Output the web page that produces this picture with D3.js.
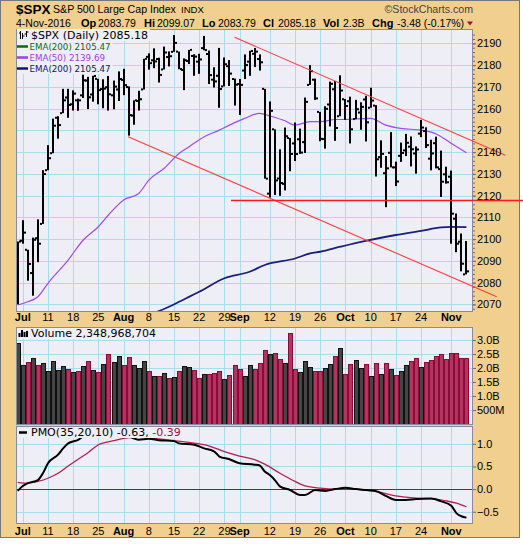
<!DOCTYPE html>
<html>
<head>
<meta charset="utf-8">
<script src="https://cdn.jsdelivr.net/npm/d3@7"></script>
<style>
  body { margin: 0; background: #fff; }
  svg { display: block; }
  text { font-family: "Liberation Sans", Arial, sans-serif; }
  text.leg { font-family: "DejaVu Sans", Verdana, sans-serif; }
</style>
</head>
<body>
<svg id="chart" width="523" height="544"></svg>
<script>
// ---- data ----
const dates = ("06-30 07-01 07-05 07-06 07-07 07-08 07-11 07-12 07-13 07-14 07-15 07-18 07-19 07-20 07-21 07-22 " +
  "07-25 07-26 07-27 07-28 07-29 08-01 08-02 08-03 08-04 08-05 08-08 08-09 08-10 08-11 08-12 08-15 08-16 08-17 " +
  "08-18 08-19 08-22 08-23 08-24 08-25 08-26 08-29 08-30 08-31 09-01 09-02 09-06 09-07 09-08 09-09 09-12 09-13 " +
  "09-14 09-15 09-16 09-19 09-20 09-21 09-22 09-23 09-26 09-27 09-28 09-29 09-30 10-03 10-04 10-05 10-06 10-07 " +
  "10-10 10-11 10-12 10-13 10-14 10-17 10-18 10-19 10-20 10-21 10-24 10-25 10-26 10-27 10-28 10-31 11-01 11-02 " +
  "11-03 11-04").split(" ");

const open = [2073.2,2099.3,2095.1,2084.4,2100.4,2107.0,2131.7,2139.5,2155.8,2157.9,2165.1,2162.0,2163.8,2166.1,2172.9,2166.5,
  2173.7,2169.0,2169.8,2166.1,2168.8,2173.2,2169.9,2156.8,2163.5,2168.8,2183.8,2182.2,2182.8,2178.0,2183.7,2186.1,2186.2,2177.8,
  2181.9,2184.2,2181.6,2187.8,2185.1,2173.3,2175.1,2170.2,2179.5,2173.6,2171.3,2177.5,2181.6,2185.2,2182.8,2169.1,2120.9,2150.5,
  2127.9,2125.4,2146.5,2144.0,2145.9,2144.6,2170.9,2173.3,2158.5,2146.0,2161.9,2168.9,2156.5,2164.3,2163.4,2155.2,2158.2,2164.2,
  2160.4,2161.4,2137.7,2130.3,2139.7,2133.0,2138.3,2140.8,2142.5,2139.4,2148.5,2149.7,2137.0,2144.1,2132.2,2129.8,2128.7,2109.4,
  2098.8,2083.8];
const high = [2098.9,2108.7,2095.1,2100.7,2109.1,2131.7,2143.2,2155.4,2156.5,2169.1,2169.1,2168.4,2164.6,2175.6,2174.6,2175.1,
  2173.7,2173.5,2175.0,2172.9,2177.1,2178.3,2170.2,2163.8,2168.2,2182.9,2185.4,2187.7,2183.4,2188.5,2186.3,2193.8,2186.2,2183.1,
  2187.0,2185.0,2185.2,2193.4,2186.7,2179.0,2187.9,2183.5,2182.3,2173.8,2173.6,2184.9,2186.6,2187.9,2184.9,2169.1,2163.3,2150.5,
  2141.3,2151.3,2146.5,2153.6,2150.8,2165.1,2180.0,2173.8,2158.5,2161.1,2172.4,2172.7,2175.3,2164.4,2165.5,2164.0,2162.9,2165.9,
  2169.6,2161.6,2145.4,2138.2,2149.2,2135.6,2144.4,2148.4,2147.2,2142.6,2154.8,2151.4,2145.7,2147.1,2140.7,2133.3,2131.5,2111.8,
  2102.6,2099.1];
const low = [2070.0,2097.9,2080.9,2074.0,2089.4,2107.0,2131.7,2139.5,2146.2,2157.9,2155.8,2159.1,2159.0,2164.9,2159.8,2163.2,
  2162.0,2160.2,2159.1,2159.7,2163.5,2166.2,2147.6,2152.6,2159.1,2168.8,2177.9,2178.6,2172.0,2178.0,2179.4,2186.1,2178.1,2168.5,
  2180.5,2175.1,2176.0,2186.8,2171.3,2169.7,2160.4,2170.2,2170.4,2161.4,2157.1,2173.6,2175.1,2179.1,2177.5,2127.8,2119.1,2120.3,
  2119.9,2122.4,2131.2,2135.9,2139.2,2139.6,2170.9,2164.0,2145.0,2141.6,2151.8,2145.2,2156.5,2154.8,2144.0,2155.2,2150.3,2144.9,
  2160.4,2128.8,2132.8,2114.7,2133.0,2124.4,2135.5,2138.2,2133.4,2130.1,2146.9,2141.9,2131.6,2132.5,2119.4,2125.5,2097.9,2094.0,
  2085.2,2083.8];
const close = [2098.9,2103.0,2088.6,2099.7,2097.9,2129.9,2137.2,2152.14,2152.43,2163.8,2161.7,2166.9,2163.8,2173.0,2165.2,2175.0,
  2168.5,2169.2,2166.6,2170.1,2173.6,2170.8,2157.0,2163.8,2164.3,2182.9,2180.9,2181.7,2175.5,2185.8,2184.1,2190.2,2178.2,2182.2,
  2187.0,2183.9,2182.6,2186.9,2175.4,2172.5,2169.0,2180.4,2176.1,2171.0,2170.9,2180.0,2186.5,2186.2,2181.3,2127.8,2159.0,2127.0,
  2125.8,2147.3,2139.16,2139.12,2139.8,2163.1,2177.2,2164.7,2146.1,2159.9,2171.4,2151.1,2168.3,2161.2,2150.5,2159.7,2160.8,2153.7,
  2163.7,2136.7,2139.2,2132.55,2132.98,2126.5,2139.6,2144.3,2141.3,2141.2,2151.3,2143.2,2139.4,2133.0,2126.4,2126.15,2111.7,2097.9,
  2088.7,2085.18];
// volume in billions
const volume = [2.88,2.10,2.20,2.35,2.10,2.17,1.88,2.26,1.92,2.06,1.95,1.85,1.88,2.06,2.24,1.92,1.85,2.13,2.49,2.20,2.42,2.10,
  2.38,2.10,1.99,2.24,1.88,1.70,1.70,1.81,1.63,1.67,1.88,2.06,2.02,1.92,1.63,1.77,1.77,1.81,1.88,1.60,1.74,2.10,1.95,1.70,2.10,
  1.95,2.17,2.63,2.49,2.52,2.31,2.17,3.24,1.95,1.85,2.24,2.02,1.88,1.88,1.99,2.13,2.42,2.70,1.77,2.13,2.27,1.99,2.13,1.70,2.17,
  1.77,2.17,1.95,1.74,1.88,2.10,2.24,2.35,2.02,2.20,2.27,2.42,2.49,2.31,2.52,2.52,2.35,2.35];

// moving averages and PMO, read as [bar index, value]
const ema50 = [[0,2069.7],[2,2071.2],[4,2073.5],[6,2079.7],[10,2090.4],[13,2099.6],[16,2105.7],[18,2111.1],[21,2118],
  [24,2121],[26,2127.1],[29,2132.5],[32,2139.4],[34,2142.5],[37,2147.1],[40,2150.1],[42,2152.4],[45,2155.5],[48,2157.8],
  [50,2156.6],[53,2154.4],[55,2152.4],[58,2154],[60,2154],[63,2155],[65,2155],[70,2155.5],[73,2152.4],[76,2150.9],
  [80,2150.1],[83,2148.3],[86,2144],[89,2139.7]];
const ema200 = [[27,2066.0],[30,2068.9],[32,2071.2],[36,2075.8],[41,2082],[46,2085],[49,2088.1],[55,2091.1],[58,2093.4],
  [60,2094.2],[64,2096.5],[69,2099.2],[75,2101.9],[80,2103.8],[84,2105.4],[86,2105.6],[89,2105.5]];
const pmo = [[0,-0.04],[1,0.07],[2,0.13],[4,0.20],[5,0.35],[6,0.57],[8,0.76],[9,0.90],[10,1.01],[12,1.09],[13,1.16],
  [16,1.24],[19,1.25],[21,1.20],[23,1.12],[24,1.09],[26,1.11],[28,1.08],[31,1.06],[32,1.01],[35,0.98],[37,0.90],[39,0.83],
  [40,0.72],[42,0.66],[44,0.57],[47,0.54],[48,0.52],[49,0.39],[50,0.31],[51,0.20],[52,0.06],[54,-0.02],[56,-0.13],
  [57,-0.13],[59,-0.02],[61,-0.04],[63,0.00],[65,0.03],[67,0.00],[69,-0.02],[71,-0.04],[73,-0.15],[75,-0.24],[77,-0.24],
  [79,-0.22],[82,-0.21],[84,-0.27],[86,-0.37],[87,-0.53],[88,-0.60],[89,-0.63]];
const signal = [[0,0.15],[2,0.13],[4,0.17],[6,0.24],[8,0.35],[10,0.51],[12,0.66],[14,0.81],[16,0.98],[19,1.07],[21,1.12],
  [24,1.15],[27,1.12],[31,1.07],[34,1.03],[38,0.95],[41,0.83],[44,0.73],[47,0.65],[49,0.55],[52,0.35],[55,0.17],[57,0.07],
  [60,0.02],[63,0.0],[66,0.0],[69,-0.02],[72,-0.07],[75,-0.15],[79,-0.20],[82,-0.21],[85,-0.26],[87,-0.31],[89,-0.39]];

// hand-drawn trend lines, [bar index, price] end points
const upperChannel = [[43.0, 2192.8], [96.7, 2138.6]];
const lowerChannel = [[21.9, 2147.1], [95.0, 2073.5]];
const support = [[42.3, 2118], [100.5, 2118]];

const tickIdx = [1, 6, 11, 16, 21, 26, 31, 36, 41, 44, 50, 55, 60, 65, 70, 75, 80, 86];
const tickLabel = ["Jul","11","18","25","Aug","8","15","22","29","Sep","12","19","26","Oct","10","17","24","Nov"];
const priceTicks = d3.range(2070, 2191, 10);
const volTicks = [3, 2.5, 2, 1.5, 1, 0.5];
const volTickLabel = ["3.0B","2.5B","2.0B","1.5B","1.0B","500M"];
const pmoTicks = [1, 0.5, 0, -0.5];

// ---- layout ----
const L = 16, R = 473;
const pricePanel = {top: 29, bottom: 312};
const volPanel = {top: 327, bottom: 425};
const pmoPanel = {top: 426, bottom: 524};

const tan = "#f0cf8f", panelBg = "#eeeef7", grid = "#acdcec", border = "#8a8a98";
const upFill = "#454545", downFill = "#b0365f", downStroke = "#8c0a3a";

const svg = d3.select("#chart");

const x = d3.scaleLinear().domain([-0.34, 90.3]).range([L, R]);
const yPrice = d3.scaleLinear().domain([2066.5, 2196.6]).range([pricePanel.bottom, pricePanel.top]);
const yVol = d3.scaleLinear().domain([-0.036, 3.464]).range([volPanel.bottom, volPanel.top]);
const yPmo = d3.scaleLinear().domain([-0.771, 1.394]).range([pmoPanel.bottom, pmoPanel.top]);

// frame
svg.append("rect").attr("x", 0.5).attr("y", 0.5).attr("width", 519).attr("height", 537)
  .attr("fill", tan).attr("stroke", "#777");

const defs = svg.append("defs");

function panel(p, y, ticks, id) {
  defs.append("clipPath").attr("id", id)
    .append("rect").attr("x", L).attr("y", p.top).attr("width", R - L).attr("height", p.bottom - p.top);
  svg.append("rect").attr("x", L).attr("y", p.top).attr("width", R - L).attr("height", p.bottom - p.top)
    .attr("fill", panelBg);
  const g = svg.append("g").attr("clip-path", `url(#${id})`);
  g.selectAll(".hg").data(ticks).enter().append("line")
    .attr("x1", L).attr("x2", R)
    .attr("y1", d => Math.round(y(d)) + 0.5).attr("y2", d => Math.round(y(d)) + 0.5)
    .attr("stroke", grid);
  g.selectAll(".vg").data(tickIdx).enter().append("line")
    .attr("x1", d => Math.round(x(d)) + 0.5).attr("x2", d => Math.round(x(d)) + 0.5)
    .attr("y1", p.top).attr("y2", p.bottom)
    .attr("stroke", grid);
  return g;
}

function rightAxis(p, y, ticks, fmt) {
  const ax = svg.append("g").attr("transform", `translate(${R},0)`)
    .call(d3.axisRight(y).tickValues(ticks).tickSize(3).tickPadding(1).tickFormat(fmt));
  ax.select(".domain").remove();
  ax.selectAll("line").attr("stroke", "#6b6b80");
  ax.selectAll("text").attr("font-size", 11).attr("fill", "#000");
  return ax;
}

function xLabels(yBase) {
  svg.append("g").selectAll("text").data(tickIdx).enter().append("text")
    .attr("x", d => x(d)).attr("y", yBase)
    .attr("text-anchor", "middle")
    .attr("font-size", 11)
    .attr("font-weight", (d, i) => isNaN(+tickLabel[i]) ? "bold" : "normal")
    .text((d, i) => tickLabel[i]);
}

function legendBox(g, yBase, h) {
  // opaque box behind a legend row, sized to its text
  const bb = g.node().getBBox();
  g.insert("rect", ":first-child").attr("x", L + 1).attr("y", yBase - h)
    .attr("width", bb.x + bb.width - L + 1).attr("height", h + 2).attr("fill", panelBg);
}

// ---- price panel ----
const gp = panel(pricePanel, yPrice, priceTicks, "clipPrice");
const priceLine = d3.line().x(d => x(d[0])).y(d => yPrice(d[1])).curve(d3.curveMonotoneX);
gp.append("path").datum(ema200).attr("d", priceLine).attr("fill", "none")
  .attr("stroke", "#1b1f78").attr("stroke-width", 1.8);
gp.append("path").datum(ema50).attr("d", priceLine).attr("fill", "none")
  .attr("stroke", "#a04ae8").attr("stroke-width", 1.2);

const bars = gp.selectAll(".bar").data(dates).enter().append("g");
bars.append("rect").attr("x", (d, i) => Math.round(x(i)) - 1).attr("width", 2)
  .attr("y", (d, i) => yPrice(high[i]))
  .attr("height", (d, i) => Math.max(1.5, yPrice(low[i]) - yPrice(high[i])))
  .attr("fill", "#000");
bars.append("rect").attr("x", (d, i) => Math.round(x(i)) - 3).attr("width", 2)
  .attr("y", (d, i) => yPrice(open[i]) - 1).attr("height", 2).attr("fill", "#000");
bars.append("rect").attr("x", (d, i) => Math.round(x(i)) + 1).attr("width", 2)
  .attr("y", (d, i) => yPrice(close[i]) - 1).attr("height", 2).attr("fill", "#000");

svg.append("rect").attr("x", L + 0.5).attr("y", pricePanel.top + 0.5).attr("width", R - L - 1)
  .attr("height", pricePanel.bottom - pricePanel.top - 1).attr("fill", "none").attr("stroke", border);

// trend lines (drawn over the panel edge like the original)
[upperChannel, lowerChannel].forEach(seg => {
  svg.append("line").attr("x1", x(seg[0][0])).attr("y1", yPrice(seg[0][1]))
    .attr("x2", x(seg[1][0])).attr("y2", yPrice(seg[1][1]))
    .attr("stroke", "#ff3c3c").attr("stroke-width", 1.1);
});
svg.append("line").attr("x1", x(support[0][0])).attr("x2", x(support[1][0]))
  .attr("y1", Math.round(yPrice(support[0][1])) + 0.5).attr("y2", Math.round(yPrice(support[1][1])) + 0.5)
  .attr("stroke", "#ff1a1a").attr("stroke-width", 1.6);

rightAxis(pricePanel, yPrice, priceTicks, d3.format("d"));
// minor ticks
svg.append("g").attr("transform", `translate(${R},0)`)
  .call(d3.axisRight(yPrice).tickValues(d3.range(2068, 2196, 2)).tickSize(2).tickFormat(""))
  .call(a => a.select(".domain").remove())
  .selectAll("line").attr("stroke", "#6b6b80");
xLabels(321);

// price legend
const lg = svg.append("g");
const row1 = lg.append("g");
row1.append("text").attr("class", "leg").attr("x", 31).attr("y", 39).attr("font-size", 11).attr("fill", "#000")
  .text("$SPX (Daily) 2085.18");
row1.append("path").attr("d", "M20.5,31v8M22.5,33v6M19,33h1.5M23,36h1.5M26.5,31v6M24.5,34h2M27,32h1.5")
  .attr("stroke", "#000").attr("stroke-width", 1);
legendBox(row1, 39, 10);
const emaRows = [["EMA(200) 2105.47", "#0b6a10", 50], ["EMA(50) 2139.69", "#9b3fe6", 61], ["EMA(200) 2105.47", "#10127a", 72]];
emaRows.forEach(r => {
  const g = lg.append("g");
  g.append("line").attr("x1", 17).attr("x2", 28).attr("y1", r[2] - 3.5).attr("y2", r[2] - 3.5)
    .attr("stroke", r[1]).attr("stroke-width", 2.5);
  g.append("text").attr("class", "leg").attr("x", 29.5).attr("y", r[2]).attr("font-size", 8.7).attr("fill", r[1])
    .text(r[0]);
  legendBox(g, r[2], 9.5);
});

// ---- volume panel ----
const gv = panel(volPanel, yVol, volTicks, "clipVol");
gv.selectAll(".vb").data(volume).enter().append("rect")
  .attr("x", (d, i) => Math.round(x(i) - 2) + 0.5)
  .attr("y", d => Math.round(yVol(d)) + 0.5)
  .attr("width", 4)
  .attr("height", d => yVol(0) - Math.round(yVol(d)))
  .attr("fill", (d, i) => i === 0 || close[i] >= close[i - 1] ? upFill : downFill)
  .attr("stroke", (d, i) => i === 0 || close[i] >= close[i - 1] ? "#111" : downStroke);
svg.append("rect").attr("x", L + 0.5).attr("y", volPanel.top + 0.5).attr("width", R - L - 1)
  .attr("height", volPanel.bottom - volPanel.top - 1).attr("fill", "none").attr("stroke", border);
rightAxis(volPanel, yVol, volTicks, (d, i) => volTickLabel[i]);
const vl = svg.append("g");
vl.append("text").attr("class", "leg").attr("x", 31).attr("y", 337).attr("font-size", 11)
  .text("Volume 2,348,968,704");
vl.append("path").attr("d", "M19.5,337v-4M22,337v-7M24.5,337v-5M27,337v-6").attr("stroke", "#000").attr("stroke-width", 2);
legendBox(vl, 337, 9);

// ---- PMO panel ----
const gm = panel(pmoPanel, yPmo, pmoTicks, "clipPmo");
gm.append("line").attr("x1", L).attr("x2", R)
  .attr("y1", Math.round(yPmo(0)) + 0.5).attr("y2", Math.round(yPmo(0)) + 0.5)
  .attr("stroke", "#a0103c").attr("stroke-width", 1);
const pmoLine = d3.line().x(d => x(d[0])).y(d => yPmo(d[1])).curve(d3.curveMonotoneX);
gm.append("path").datum(signal).attr("d", pmoLine).attr("fill", "none")
  .attr("stroke", "#b3204e").attr("stroke-width", 1.3);
gm.append("path").datum(pmo).attr("d", pmoLine).attr("fill", "none")
  .attr("stroke", "#000").attr("stroke-width", 2);
svg.append("rect").attr("x", L + 0.5).attr("y", pmoPanel.top + 0.5).attr("width", R - L - 1)
  .attr("height", pmoPanel.bottom - pmoPanel.top - 1).attr("fill", "none").attr("stroke", border);
rightAxis(pmoPanel, yPmo, pmoTicks, d3.format(".1f"));
xLabels(535);
const pl = svg.append("g");
const pt = pl.append("text").attr("class", "leg").attr("x", 31).attr("y", 436).attr("font-size", 11);
pt.append("tspan").attr("fill", "#000").text("PMO(35,20,10) -0.63, ");
pt.append("tspan").attr("fill", "#a0103c").text("-0.39");
pl.append("line").attr("x1", 19).attr("x2", 27).attr("y1", 432.5).attr("y2", 432.5)
  .attr("stroke", "#000").attr("stroke-width", 2.5);
legendBox(pl, 436, 9);

// ---- header ----
const hd = svg.append("g");
hd.append("text").attr("x", 16).attr("y", 14).attr("font-size", 13.5).attr("font-weight", "bold").text("$SPX");
hd.append("text").attr("x", 53).attr("y", 13).attr("font-size", 10.6).text("S&P 500 Large Cap Index");
hd.append("text").attr("x", 181).attr("y", 13).attr("font-size", 9.6).text("INDX");
hd.append("text").attr("x", 473).attr("y", 13).attr("font-size", 10.6).attr("text-anchor", "end")
  .attr("fill", "#444").text("\u00a9StockCharts.com");
const line2 = [["4-Nov-2016", 16, false], ["Op", 81, true], ["2083.79", 98, false], ["Hi", 144, true],
  ["2099.07", 157, false], ["Lo", 202, true], ["2083.79", 218, false], ["Cl", 263, true], ["2085.18", 278, false],
  ["Vol", 323, true], ["2.3B", 343, false], ["Chg", 372, true], ["-3.48 (-0.17%)", 397, false]];
line2.forEach(t => {
  hd.append("text").attr("x", t[1]).attr("y", 26.5).attr("font-size", t[2] ? 11 : 10.5)
    .attr("font-weight", t[2] ? "bold" : "normal").text(t[0]);
});
hd.append("path").attr("d", "M467,21.5h6l-3,4z").attr("fill", "#a01030");
</script>
</body>
</html>
